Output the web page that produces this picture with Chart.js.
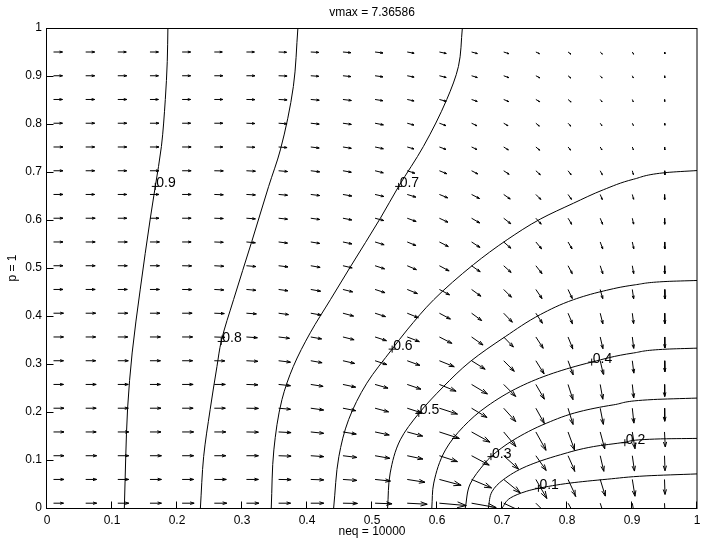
<!DOCTYPE html>
<html>
<head>
<meta charset="utf-8">
<title>vmax = 7.36586</title>
<script src="https://cdn.jsdelivr.net/npm/chart.js@4.4.1/dist/chart.umd.min.js"></script>
<style>
  html, body { margin: 0; padding: 0; background: #fff; }
  canvas { display: block; }
</style>
</head>
<body>
<canvas id="myChart" width="708" height="545"></canvas>
<script>
// quiver grid: neq fraction along x, p along y
const neqGrid = [0.01, 0.0595, 0.1089, 0.1584, 0.2079, 0.2574, 0.3068, 0.3563, 0.4058, 0.4553,
                 0.5047, 0.5542, 0.6037, 0.6532, 0.7026, 0.7521, 0.8016, 0.8511, 0.9005, 0.95];
const pGrid = [0.01, 0.0595, 0.1089, 0.1584, 0.2079, 0.2574, 0.3068, 0.3563, 0.4058, 0.4553,
               0.5047, 0.5542, 0.6037, 0.6532, 0.7026, 0.7521, 0.8016, 0.8511, 0.9005, 0.95];

// arrow direction in degrees (0 = right, negative = down), one row per p value, bottom first
const arrowAngle = [
  [0,0,0,0,0,0,0,0,0,-1,-2,-3,-5,-10,-25,-45,-60,-72,-80,-87],
  [0,0,0,0,0,0,0,-1,-2,-4,-6,-9,-15,-23,-39,-60,-65,-73,-81,-88],
  [0,0,0,0,0,0,0,-2,-4,-7,-10,-12,-18,-28,-42,-55,-66,-77,-82,-88],
  [0,0,0,0,0,0,-1,-3,-6,-9,-12,-15,-18,-29,-50,-61,-70,-75,-81,-87],
  [0,0,0,0,0,0,-1,-5,-8,-11,-15,-18,-18,-31,-48,-61,-73,-79,-84,-89],
  [0,0,0,0,0,0,-2,-6,-9,-12,-16,-19,-22,-31,-45,-60,-72,-80,-84,-89],
  [0,0,0,0,0,-1,-3,-7,-10,-13,-18,-20,-22,-32,-45,-58,-70,-77,-83,-88],
  [0,0,0,0,0,-2,-4,-7,-10,-14,-18,-21,-27,-35,-46,-57,-68,-77,-83,-88],
  [0,0,0,0,0,-2,-4,-8,-10,-15,-18,-22,-28,-36,-46,-57,-67,-76,-83,-88],
  [0,0,0,0,-1,-3,-5,-8,-10,-14,-18,-22,-28,-36,-45,-56,-65,-75,-82,-87],
  [0,0,0,0,-1,-3,-5,-7,-10,-13,-18,-23,-28,-35,-42,-52,-62,-72,-80,-88],
  [0,0,0,0,0,-2,-5,-7,-9,-12,-17,-22,-27,-33,-41,-50,-60,-70,-78,-87],
  [0,0,0,0,0,-2,-4,-6,-8,-11,-15,-20,-25,-30,-38,-48,-58,-68,-78,-88],
  [0,0,0,0,0,-2,-3,-5,-7,-10,-13,-17,-22,-27,-35,-45,-55,-68,-75,-88],
  [0,0,0,0,0,-1,-3,-5,-7,-10,-14,-18,-22,-27,-33,-42,-52,-62,-75,-85],
  [0,0,0,0,0,0,-2,-4,-7,-9,-12,-16,-20,-25,-32,-40,-50,-60,-70,-85],
  [0,0,0,0,0,0,-2,-4,-6,-8,-11,-15,-20,-25,-30,-40,-45,-55,-65,-80],
  [0,0,0,0,0,0,-1,-3,-5,-7,-9,-12,-15,-19,-23,-30,-40,-52,-68,-84],
  [0,0,0,0,0,0,0,-2,-4,-6,-8,-11,-14,-17,-20,-28,-38,-50,-65,-82],
  [0,0,0,0,0,0,0,-2,-3,-5,-7,-10,-12,-15,-18,-25,-35,-45,-60,-80]
];

// relative arrow speed, same layout as arrowAngle
const arrowSpeed = [
  [1.0,1.1,1.1,1.15,1.2,1.25,1.25,1.2,1.3,1.45,1.7,2.0,2.7,2.5,2.2,2.0,1.8,1.7,1.6,1.5],
  [1.05,1.1,1.1,1.15,1.15,1.2,1.2,1.25,1.3,1.4,1.55,1.8,2.25,2.17,2.13,2.2,1.86,1.74,1.7,1.5],
  [1.05,1.1,1.1,1.15,1.15,1.15,1.2,1.25,1.3,1.4,1.5,1.6,1.9,2.0,2.0,1.8,1.7,1.6,1.55,1.5],
  [1.05,1.05,1.1,1.1,1.15,1.15,1.2,1.25,1.3,1.35,1.45,1.6,2.1,2.1,1.9,2.1,1.95,1.75,1.7,1.5],
  [1.05,1.05,1.05,1.1,1.1,1.1,1.2,1.2,1.3,1.3,1.4,1.5,1.9,1.8,1.8,1.75,1.7,1.65,1.5,1.3],
  [1.0,1.05,1.05,1.05,1.1,1.1,1.15,1.2,1.25,1.3,1.35,1.45,1.8,1.85,1.7,1.7,1.6,1.5,1.35,1.2],
  [1.0,1.0,1.05,1.05,1.05,1.05,1.15,1.2,1.15,1.2,1.25,1.35,1.6,1.6,1.5,1.55,1.5,1.4,1.25,1.1],
  [1.0,1.0,1.0,1.05,1.05,1.05,1.1,1.1,1.1,1.15,1.2,1.3,1.4,1.4,1.4,1.35,1.3,1.2,1.15,1.1],
  [1.0,1.0,1.0,1.0,1.0,1.0,1.0,1.0,1.05,1.1,1.1,1.2,1.25,1.25,1.25,1.2,1.15,1.1,1.05,1.05],
  [0.95,0.95,0.95,0.95,0.95,0.95,0.95,0.95,1.0,1.0,1.05,1.1,1.15,1.15,1.1,1.1,1.0,0.95,0.95,0.95],
  [0.95,0.95,0.95,0.95,0.95,0.95,0.95,0.95,0.95,0.95,1.0,1.0,1.1,1.05,1.0,1.0,0.9,0.85,0.8,0.8],
  [0.95,0.95,0.95,0.95,0.9,0.9,0.9,0.9,0.9,0.92,0.95,0.95,1.0,1.0,0.95,0.9,0.8,0.75,0.7,0.7],
  [0.95,0.95,0.9,0.9,0.9,0.9,0.9,0.9,0.9,0.9,0.9,0.95,0.95,0.95,0.9,0.8,0.7,0.65,0.6,0.6],
  [0.95,0.9,0.9,0.9,0.9,0.9,0.9,0.9,0.9,0.9,0.9,0.9,0.9,0.9,0.8,0.7,0.6,0.55,0.5,0.5],
  [0.95,0.9,0.9,0.9,0.9,0.9,0.9,0.9,0.9,0.85,0.85,0.8,0.8,0.7,0.65,0.6,0.5,0.45,0.4,0.4],
  [0.95,0.9,0.9,0.9,0.9,0.85,0.85,0.85,0.85,0.85,0.85,0.7,0.7,0.6,0.55,0.5,0.4,0.35,0.3,0.3],
  [0.9,0.9,0.9,0.9,0.85,0.85,0.85,0.85,0.85,0.85,0.85,0.7,0.7,0.6,0.5,0.45,0.4,0.3,0.25,0.2],
  [0.9,0.9,0.9,0.85,0.85,0.85,0.85,0.85,0.85,0.85,0.8,0.7,0.7,0.6,0.55,0.45,0.4,0.3,0.25,0.2],
  [0.9,0.9,0.9,0.85,0.85,0.85,0.85,0.85,0.8,0.8,0.8,0.7,0.7,0.6,0.55,0.45,0.35,0.3,0.25,0.2],
  [0.9,0.9,0.85,0.85,0.85,0.8,0.8,0.8,0.8,0.8,0.8,0.7,0.7,0.6,0.55,0.4,0.35,0.3,0.25,0.2]
];

// contour lines, [neq, p] pairs (p increasing along each line)
const level01 = [[0.70,0],[0.713,0.021],[0.738,0.035],[0.756,0.041],[0.805,0.052],[0.862,0.06],[0.923,0.067],[1.0,0.071]];
const level02 = [[0.679,0],[0.685,0.035],[0.702,0.059],[0.738,0.087],[0.79,0.111],[0.841,0.128],[0.889,0.137],[0.944,0.144],[1.0,0.145]];
const level03 = [[0.6435,0],[0.651,0.05],[0.674,0.094],[0.683,0.107],[0.718,0.142],[0.769,0.177],[0.82,0.201],[0.872,0.215],[0.933,0.226],[1.0,0.229]];
const level04 = [[0.592,0],[0.595,0.052],[0.613,0.121],[0.641,0.17],[0.677,0.212],[0.728,0.253],[0.779,0.281],[0.838,0.304],[0.9025,0.323],[0.954,0.331],[1.0,0.333]];
const level05 = [[0.524,0],[0.528,0.073],[0.5435,0.142],[0.572,0.197],[0.61,0.253],[0.651,0.305],[0.705,0.357],[0.759,0.403],[0.81,0.434],[0.856,0.452],[0.905,0.465],[0.954,0.472],[1.0,0.474]];
const level06 = [[0.441,0],[0.449,0.107],[0.464,0.184],[0.492,0.26],[0.531,0.331],[0.554,0.371],[0.595,0.434],[0.656,0.507],[0.708,0.559],[0.759,0.602],[0.81,0.635],[0.856,0.663],[0.9025,0.685],[0.954,0.699],[1.0,0.703]];
const level07 = [[0.345,0],[0.349,0.121],[0.3615,0.226],[0.379,0.295],[0.405,0.365],[0.436,0.434],[0.467,0.503],[0.513,0.604],[0.541,0.67],[0.579,0.753],[0.615,0.851],[0.633,0.92],[0.639,1.0]];
const level08 = [[0.236,0],[0.241,0.107],[0.251,0.205],[0.2615,0.295],[0.268,0.347],[0.287,0.434],[0.315,0.555],[0.341,0.67],[0.359,0.746],[0.379,0.878],[0.386,1.0]];
const level09 = [[0.119,0],[0.121,0.1],[0.124,0.208],[0.131,0.323],[0.1435,0.456],[0.159,0.604],[0.1666,0.67],[0.176,0.753],[0.182,0.851],[0.185,0.93],[0.186,1.0]];
const contourLines = [level01, level02, level03, level04, level05, level06, level07, level08, level09];

// contour labels (clabel '+' positions)
const labelText = ['0.1', '0.2', '0.3', '0.4', '0.5', '0.6', '0.7', '0.8', '0.9'];
const labelNeq = [0.756, 0.889, 0.683, 0.838, 0.572, 0.531, 0.541, 0.268, 0.1666];
const labelP = [0.041, 0.136, 0.107, 0.304, 0.197, 0.331, 0.67, 0.347, 0.67];

const arrowScale = 10;      // px per unit of speed
const headSize = 0.35;      // head length as part of arrow
const headAngle = 18 * Math.PI / 180;

Chart.defaults.font.family = '"Liberation Sans", Arial, Helvetica, sans-serif';
Chart.defaults.font.size = 12;
Chart.defaults.color = '#000';

const contourLabels = {
  id: 'contourLabels',
  afterDatasetsDraw(chart) {
    const { ctx, scales: { x, y } } = chart;
    ctx.save();
    ctx.fillStyle = '#000';
    ctx.font = '14px "Liberation Sans", Arial, sans-serif';
    ctx.textAlign = 'left';
    ctx.textBaseline = 'alphabetic';
    labelText.forEach((t, i) => {
      ctx.fillText(t, x.getPixelForValue(labelNeq[i]) + 1, y.getPixelForValue(labelP[i]) + 1);
    });
    ctx.restore();
  }
};

// matlab style box with inward ticks on the bottom and left
const axesBox = {
  id: 'axesBox',
  afterDraw(chart) {
    const { ctx, chartArea: a, scales: { x, y } } = chart;
    ctx.save();
    ctx.strokeStyle = '#000';
    ctx.lineWidth = 1;
    ctx.beginPath();
    x.ticks.forEach(t => {
      const px = Math.round(x.getPixelForValue(t.value)) - 0.5;
      ctx.moveTo(px, a.bottom);
      ctx.lineTo(px, a.bottom - 6.5);
    });
    y.ticks.forEach(t => {
      const py = Math.round(y.getPixelForValue(t.value)) + 0.5;
      ctx.moveTo(a.left, py);
      ctx.lineTo(a.left + 6.5, py);
    });
    ctx.stroke();
    ctx.strokeRect(a.left - 0.5, a.top + 0.5, a.right - a.left + 0.5, a.bottom - a.top);
    ctx.restore();
  }
};

const contourSet = pts => ({
  type: 'line',
  indexAxis: 'y',
  data: pts.map(([x, y]) => ({ x, y })),
  borderColor: '#000',
  borderWidth: 1,
  pointRadius: 0,
  cubicInterpolationMode: 'monotone',
  fill: false
});

const tickText = v => String(Number(v.toFixed(1)));

const chart = new Chart(document.getElementById('myChart'), {
  type: 'scatter',
  data: {
    datasets: [
      ...contourLines.map(contourSet),
      {
        data: labelNeq.map((x, i) => ({ x, y: labelP[i] })),
        pointStyle: 'cross',
        pointRadius: 3.5,
        borderColor: '#000',
        borderWidth: 1
      },
      {
        data: [],
        showLine: true,
        spanGaps: false,
        borderColor: '#000',
        borderWidth: 1,
        pointRadius: 0
      }
    ]
  },
  options: {
    responsive: false,
    animation: false,
    events: [],
    layout: { padding: { left: 0, right: 11, top: 0, bottom: 0 } },
    plugins: {
      legend: { display: false },
      tooltip: { enabled: false },
      title: {
        display: true,
        text: 'vmax = 7.36586',
        fullSize: false,
        font: { size: 12, weight: 'normal' },
        color: '#000',
        padding: { top: 5, bottom: 8.6 }
      }
    },
    scales: {
      x: {
        type: 'linear',
        min: 0,
        max: 1,
        ticks: { stepSize: 0.1, padding: 5, maxRotation: 0, autoSkip: false, color: '#000', callback: tickText },
        grid: { display: false, drawTicks: false },
        border: { display: false },
        title: { display: true, text: 'neq = 10000', color: '#000', padding: { top: 0, bottom: 6.5 } },
        afterFit: s => { s.height = 37; }
      },
      y: {
        type: 'linear',
        min: 0,
        max: 1,
        ticks: { stepSize: 0.1, padding: 5, autoSkip: false, color: '#000', callback: tickText },
        grid: { display: false, drawTicks: false },
        border: { display: false },
        title: { display: true, text: 'p = 1', color: '#000', padding: { top: 5, bottom: 0 } },
        afterFit: s => { s.width = 47; }
      }
    }
  },
  plugins: [contourLabels, axesBox]
});

// build the quiver arrows (shaft + two head strokes) through the chart scales
function buildArrows(chart) {
  const sx = chart.scales.x, sy = chart.scales.y;
  const toData = (px, py) => ({ x: sx.getValueForPixel(px), y: sy.getValueForPixel(py) });
  const pts = [];
  pGrid.forEach((p, r) => {
    neqGrid.forEach((n, c) => {
      const len = arrowSpeed[r][c] * arrowScale;
      const a = arrowAngle[r][c] * Math.PI / 180;
      const x0 = sx.getPixelForValue(n), y0 = sy.getPixelForValue(p);
      const x1 = x0 + len * Math.cos(a), y1 = y0 - len * Math.sin(a);
      const hl = len * headSize;
      const h1 = toData(x1 - hl * Math.cos(a + headAngle), y1 + hl * Math.sin(a + headAngle));
      const h2 = toData(x1 - hl * Math.cos(a - headAngle), y1 + hl * Math.sin(a - headAngle));
      const tip = toData(x1, y1);
      pts.push(toData(x0, y0), tip, { x: n, y: null }, h1, tip, h2, { x: n, y: null });
    });
  });
  chart.data.datasets[chart.data.datasets.length - 1].data = pts;
  chart.update('none');
}
buildArrows(chart);
</script>
</body>
</html>
